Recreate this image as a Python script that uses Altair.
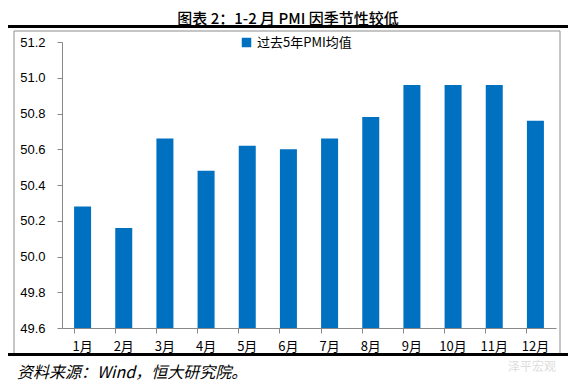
import altair as alt
import pandas as pd

months = ["1月", "2月", "3月", "4月", "5月", "6月", "7月", "8月", "9月", "10月", "11月", "12月"]
values = [50.28, 50.16, 50.66, 50.48, 50.62, 50.60, 50.66, 50.78, 50.96, 50.96, 50.96, 50.76]
series_name = "过去5年PMI均值"
title_text = "图表 2：1-2 月 PMI 因季节性较低"
source_text = "资料来源：Wind，恒大研究院。"
watermark = "泽平宏观"
y_ticks = [49.6, 49.8, 50.0, 50.2, 50.4, 50.6, 50.8, 51.0, 51.2]

df = pd.DataFrame({"month": months, "value": values, "series": series_name})
one = pd.DataFrame({"a": [0]})

W, H = 494, 286
blue = "#0070C0"

bars = alt.Chart(df).mark_bar(size=17).encode(
    x=alt.X("month:N", sort=months, title=None,
            scale=alt.Scale(paddingInner=0.59, paddingOuter=0.295),
            axis=alt.Axis(labelAngle=0, bandPosition=0,
                          labelFont="Noto Sans CJK SC", labelFontSize=13, labelColor="#000",
                          labelPadding=7, tickSize=5, tickColor="#888", domainColor="#888",
                          labelOverlap=False)),
    y=alt.Y("value:Q", title=None,
            scale=alt.Scale(domain=[49.6, 51.2], zero=False, nice=False),
            axis=alt.Axis(values=y_ticks, format=".1f", grid=False, labelFont="Liberation Sans",
                          labelFontSize=13, labelColor="#000", labelPadding=12, tickSize=5,
                          tickColor="#888", domainColor="#888")),
    y2=alt.datum(49.6),
    color=alt.Color("series:N", title=None,
                    scale=alt.Scale(range=[blue]),
                    legend=alt.Legend(orient="none", legendX=178, legendY=-6, symbolType="square",
                                      symbolSize=90, labelFont="Noto Sans CJK SC", labelFontSize=13,
                                      labelColor="#000", symbolStrokeWidth=0)),
)

box = alt.Chart(one).mark_rect(fill=None, stroke="#8c8c8c", strokeWidth=1).encode(
    x=alt.value(-48), x2=alt.value(498), y=alt.value(-11), y2=alt.value(313))

top_line = alt.Chart(one).mark_rule(color="#000", strokeWidth=3).encode(
    x=alt.value(-54), x2=alt.value(506), y=alt.value(-15.5))
bot_line = alt.Chart(one).mark_rule(color="#000", strokeWidth=3).encode(
    x=alt.value(-54), x2=alt.value(506), y=alt.value(312.5))

title = alt.Chart(one).mark_text(text=title_text, font="Noto Sans CJK SC", fontSize=15,
                                 fontWeight=500, color="#000", align="center",
                                 baseline="middle").encode(
    x=alt.value(226), y=alt.value(-23.5))

source = alt.Chart(one).mark_text(text=source_text, font="Noto Sans CJK SC", fontSize=16,
                                  fontStyle="italic", color="#000", align="left",
                                  baseline="middle").encode(
    x=alt.value(-45), y=alt.value(331))

wm = alt.Chart(one).mark_text(text=watermark, font="Noto Sans CJK SC", fontSize=12,
                              color="#c8c8c8", opacity=0.6, align="left",
                              baseline="middle").encode(
    x=alt.value(446), y=alt.value(325))

chart = alt.layer(box, top_line, bot_line, bars, title, source, wm).properties(
    width=W, height=H,
    autosize=alt.AutoSizeParams(type="none"),
    padding={"left": 54, "top": 34, "right": 12, "bottom": 55},
).configure_view(stroke=None)

chart.save("out.html", embed_options={"renderer": "svg", "actions": False})
